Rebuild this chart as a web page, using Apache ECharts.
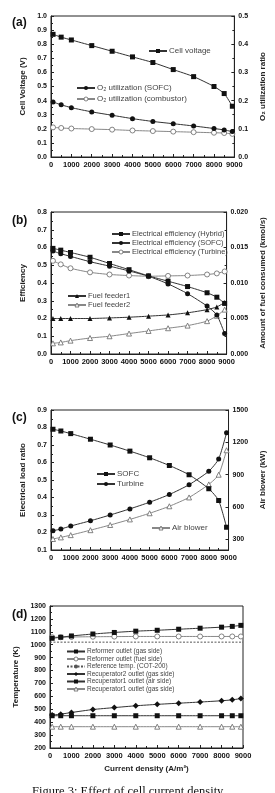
<!DOCTYPE html>
<html>
<head>
<meta charset="utf-8">
<script src="https://cdn.jsdelivr.net/npm/echarts@6/dist/echarts.min.js"></script>
<style>
  html, body { margin: 0; padding: 0; background: #fff; }
  #main { width: 275px; height: 793px; }
</style>
</head>
<body>
<div id="main"></div>
<script>
// current density (A/m2) where every curve is sampled
var currentDensity = [100, 500, 1000, 2000, 3000, 4000, 5000, 6000, 7000, 8000, 8500, 8900];

// (a)
var cellVoltage     = [0.87, 0.85, 0.83, 0.79, 0.75, 0.71, 0.67, 0.62, 0.57, 0.50, 0.45, 0.36];
var o2UtilSofc      = [0.195, 0.185, 0.175, 0.16, 0.148, 0.136, 0.126, 0.118, 0.11, 0.101, 0.096, 0.09];
var o2UtilCombustor = [0.105, 0.103, 0.101, 0.099, 0.097, 0.094, 0.092, 0.09, 0.088, 0.086, 0.085, 0.082];

// (b)
var effHybrid   = [0.595, 0.585, 0.572, 0.545, 0.51, 0.475, 0.44, 0.41, 0.38, 0.345, 0.32, 0.285];
var effSofc     = [0.58, 0.565, 0.55, 0.52, 0.495, 0.468, 0.438, 0.395, 0.34, 0.27, 0.22, 0.115];
var effTurbine  = [0.525, 0.505, 0.483, 0.46, 0.448, 0.442, 0.438, 0.44, 0.442, 0.448, 0.454, 0.465];
var fuelFeeder1 = [0.005, 0.005, 0.005, 0.005, 0.00508, 0.00518, 0.00533, 0.0055, 0.0058, 0.00625, 0.00663, 0.00725];
var fuelFeeder2 = [0.0015, 0.00163, 0.00188, 0.00225, 0.0025, 0.00288, 0.00325, 0.00363, 0.004, 0.00463, 0.00538, 0.00625];

// (c)
var loadSofc    = [0.79, 0.78, 0.765, 0.733, 0.70, 0.665, 0.627, 0.583, 0.53, 0.45, 0.383, 0.23];
var loadTurbine = [0.21, 0.22, 0.237, 0.267, 0.30, 0.335, 0.373, 0.417, 0.473, 0.55, 0.62, 0.77];
var airBlower   = [302, 317, 338, 384, 432, 484, 541, 606, 688, 809, 899, 1126];
var airBlowerTicks = [300, 600, 900, 1200, 1500];

// (d)
var tReformerGas  = [1050, 1058, 1068, 1083, 1095, 1105, 1112, 1120, 1128, 1136, 1142, 1150];
var tReformerFuel = [1058, 1058, 1060, 1062, 1063, 1064, 1064, 1064, 1064, 1064, 1064, 1064];
var refTempX      = [0, 9000];
var refTemp       = [1020, 1020];
var tRecup2Gas    = [455, 462, 475, 498, 513, 527, 538, 547, 556, 566, 573, 583];
var tRecup1Air    = [450, 450, 450, 450, 450, 450, 450, 450, 450, 450, 450, 450];
var tRecup1Gas    = [365, 365, 365, 365, 365, 365, 365, 365, 365, 365, 365, 365];

var FONT = 'Liberation Sans';
var openStyle = { color: '#fff', borderColor: '#666', borderWidth: 0.8 };
var openNames = [];

function pair(ys, xs) {
  xs = xs || currentDensity;
  return xs.map(function (x, i) { return [x, ys[i]]; });
}

function xAxisFor(gi, extra) {
  var ax = {
    type: 'value', gridIndex: gi, min: 0, max: 9000, interval: 1000,
    axisLine: { lineStyle: { color: '#222' } },
    axisTick: { inside: true, length: 3, lineStyle: { color: '#222' } },
    minorTick: { show: true, splitNumber: 2, length: 2, lineStyle: { color: '#222' } },
    splitLine: { show: false },
    axisLabel: {
      color: '#111', fontWeight: 'bold', fontSize: 7.5, margin: 4, fontFamily: FONT,
      formatter: function (v) { return String(v); }
    }
  };
  return Object.assign(ax, extra || {});
}

function yAxisFor(gi, pos, name, gap, min, max, interval, digits, extra) {
  var ax = {
    type: 'value', gridIndex: gi, position: pos, min: min, max: max, interval: interval,
    name: name, nameLocation: 'middle', nameGap: gap, nameRotate: 90,
    nameTextStyle: { color: '#222', fontWeight: 'bold', fontSize: 8, fontFamily: FONT },
    axisLine: { show: true, lineStyle: { color: '#222' } },
    axisTick: { show: true, inside: true, length: 3, lineStyle: { color: '#222' } },
    minorTick: { show: true, splitNumber: 2, length: 2, lineStyle: { color: '#222' } },
    splitLine: { show: false },
    axisLabel: {
      color: '#111', fontWeight: 'bold', fontSize: 7, margin: 4, fontFamily: FONT,
      formatter: function (v) { return v.toFixed(digits); }
    }
  };
  return Object.assign(ax, extra || {});
}

// open markers = white fill with grey outline, filled = black
function line(name, xi, yi, ys, symbol, open, xs) {
  if (open) openNames.push(name);
  return {
    name: name, type: 'line', xAxisIndex: xi, yAxisIndex: yi,
    data: pair(ys, xs), symbol: symbol,
    symbolSize: symbol === 'diamond' ? 6 : 5,
    smooth: 0.2, showSymbol: true,
    lineStyle: { color: open ? '#888' : '#333', width: 1 },
    itemStyle: open ? openStyle : { color: '#111', borderWidth: 0 },
    z: open ? 2 : 3
  };
}

function legendAt(names, left, top, gap, size) {
  return {
    data: names.map(function (n) {
      return openNames.indexOf(n) >= 0 ? { name: n, itemStyle: openStyle } : n;
    }),
    orient: 'vertical', left: left, top: top, itemGap: gap,
    itemWidth: 18, itemHeight: 5, padding: 0, selectedMode: false,
    textStyle: { color: '#444', fontSize: size, fontFamily: FONT, padding: [0, 0, 0, -3] }
  };
}

var series = [
  line('Cell voltage', 0, 0, cellVoltage, 'rect', false),
  line('O₂ utilization (SOFC)', 0, 1, o2UtilSofc, 'circle', false),
  line('O₂ utilization (combustor)', 0, 1, o2UtilCombustor, 'circle', true),

  line('Electrical efficiency (Hybrid)', 1, 2, effHybrid, 'rect', false),
  line('Electrical efficiency (SOFC)', 1, 2, effSofc, 'circle', false),
  line('Electrical efficiency (Turbine)', 1, 2, effTurbine, 'circle', true),
  line('Fuel feeder1', 1, 3, fuelFeeder1, 'triangle', false),
  line('Fuel feeder2', 1, 3, fuelFeeder2, 'triangle', true),

  line('SOFC', 2, 4, loadSofc, 'rect', false),
  line('Turbine', 2, 4, loadTurbine, 'circle', false),
  line('Air blower', 2, 5, airBlower, 'triangle', true),

  line('Reformer outlet (gas side)', 3, 6, tReformerGas, 'rect', false),
  line('Reformer outlet (fuel side)', 3, 6, tReformerFuel, 'circle', true),
  {
    name: 'Reference temp. (COT-200)', type: 'line', xAxisIndex: 3, yAxisIndex: 6,
    data: pair(refTemp, refTempX), symbol: 'none',
    lineStyle: { color: '#555', width: 1, type: [2, 1.5] }, itemStyle: { color: '#555' }
  },
  line('Recuperator2 outlet (gas side)', 3, 6, tRecup2Gas, 'diamond', false),
  line('Recuperator1 outlet (air side)', 3, 6, tRecup1Air, 'rect', false),
  line('Recuperator1 outlet (gas side)', 3, 6, tRecup1Gas, 'triangle', true)
];

var myChart = echarts.init(document.getElementById('main'));

var option = {
  backgroundColor: '#fff',
  animation: false,
  grid: [
    { left: 51, top: 16, width: 191, height: 141, show: true, borderColor: '#222', borderWidth: 1 },
    { left: 51, top: 212, width: 191, height: 142, show: true, borderColor: '#222', borderWidth: 1 },
    { left: 51, top: 410, width: 191, height: 140, show: true, borderColor: '#222', borderWidth: 1 },
    { left: 50, top: 606, width: 193, height: 142, show: true, borderColor: '#222', borderWidth: 1 }
  ],
  xAxis: [
    xAxisFor(0), xAxisFor(1), xAxisFor(2),
    xAxisFor(3, {
      name: 'Current density (A/m²)', nameLocation: 'middle', nameGap: 17,
      nameTextStyle: { color: '#222', fontWeight: 'bold', fontSize: 8, fontFamily: FONT }
    })
  ],
  yAxis: [
    yAxisFor(0, 'left', 'Cell Voltage (V)', 22, 0, 1, 0.1, 1),
    yAxisFor(0, 'right', 'O₂ utilization ratio', 20, 0, 0.5, 0.1, 1),
    yAxisFor(1, 'left', 'Efficiency', 22, 0, 0.8, 0.1, 1),
    yAxisFor(1, 'right', 'Amount of fuel consumed (kmol/s)', 24, 0, 0.02, 0.005, 3),
    yAxisFor(2, 'left', 'Electrical load ratio', 22, 0.1, 0.9, 0.1, 1),
    yAxisFor(2, 'right', 'Air blower (kW)', 21, 200, 1500, null, 0, {
      axisLabel: {
        color: '#111', fontWeight: 'bold', fontSize: 7, margin: 4, fontFamily: FONT,
        customValues: airBlowerTicks,
        formatter: function (v) { return String(v); }
      },
      axisTick: { show: true, inside: true, length: 3, lineStyle: { color: '#222' }, customValues: airBlowerTicks },
      minorTick: { show: false }
    }),
    yAxisFor(3, 'left', 'Temperature (K)', 25, 200, 1300, 100, 0)
  ],
  legend: [
    legendAt(['Cell voltage'], 148, 47, 3, 8),
    legendAt(['O₂ utilization (SOFC)', 'O₂ utilization (combustor)'], 76, 84, 3, 8),
    legendAt(['Electrical efficiency (Hybrid)', 'Electrical efficiency (SOFC)', 'Electrical efficiency (Turbine)'], 111, 230, 1, 7.5),
    legendAt(['Fuel feeder1', 'Fuel feeder2'], 67, 292, 1, 7.5),
    legendAt(['SOFC', 'Turbine'], 96, 470, 2, 8),
    legendAt(['Air blower'], 151, 524, 2, 8),
    legendAt(['Reformer outlet (gas side)', 'Reformer outlet (fuel side)', 'Reference temp. (COT-200)',
              'Recuperator2 outlet (gas side)', 'Recuperator1 outlet (air side)', 'Recuperator1 outlet (gas side)'],
             66, 648, 0.5, 6.5)
  ],
  graphic: [
    { type: 'text', left: 12, top: 17, style: { text: '(a)', font: 'bold 12px "Liberation Sans"', fill: '#111' } },
    { type: 'text', left: 12, top: 215, style: { text: '(b)', font: 'bold 12px "Liberation Sans"', fill: '#111' } },
    { type: 'text', left: 12, top: 412, style: { text: '(c)', font: 'bold 12px "Liberation Sans"', fill: '#111' } },
    { type: 'text', left: 12, top: 609, style: { text: '(d)', font: 'bold 12px "Liberation Sans"', fill: '#111' } },
    { type: 'text', left: 32, top: 785, style: { text: 'Figure 3: Effect of cell current density', font: '12.5px "Liberation Serif"', fill: '#111' } }
  ],
  series: series
};

myChart.setOption(option);
</script>
</body>
</html>
